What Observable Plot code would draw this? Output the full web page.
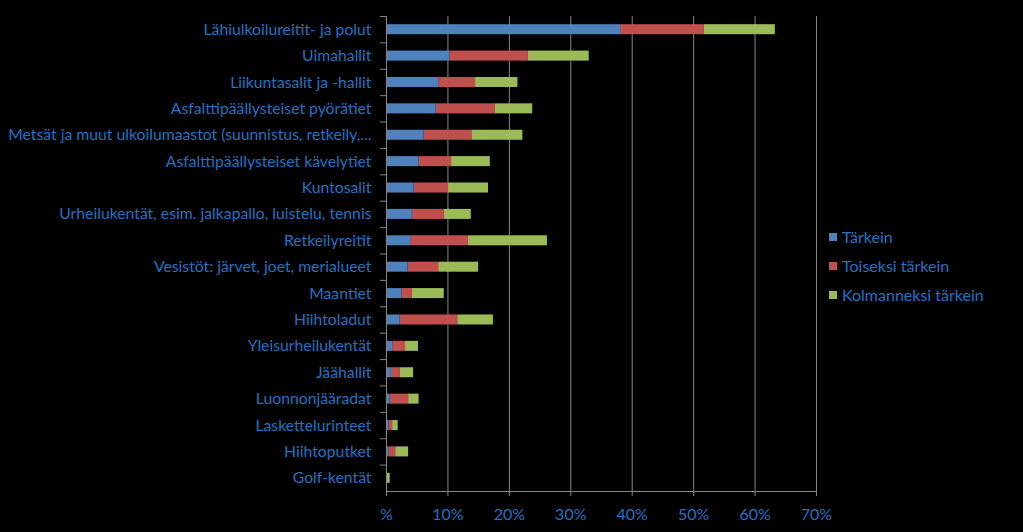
<!DOCTYPE html>
<html>
<head>
<meta charset="utf-8">
<script src="https://cdn.jsdelivr.net/npm/d3@7"></script>
<script src="https://cdn.jsdelivr.net/npm/@observablehq/plot@0.6"></script>
<style>
  html, body { margin: 0; padding: 0; background: #000; }
  #wrap { position: relative; width: 1023px; height: 532px; background: #000; }
  #legend { position: absolute; left: 829px; top: 222px; font-family: Lato, "Open Sans", sans-serif; font-size: 16px; color: #2272c3; }
  #legend .row { display: flex; align-items: center; height: 29px; }
  #legend .sw { width: 8px; height: 8px; margin-right: 5px; }
</style>
</head>
<body>
<div id="wrap"><div id="legend"></div></div>
<script>
const categories = [
  "Lähiulkoilureitit- ja polut",
  "Uimahallit",
  "Liikuntasalit ja -hallit",
  "Asfalttipäällysteiset pyörätiet",
  "Metsät ja muut ulkoilumaastot (suunnistus, retkeily,...",
  "Asfalttipäällysteiset kävelytiet",
  "Kuntosalit",
  "Urheilukentät, esim. jalkapallo, luistelu, tennis",
  "Retkeilyreitit",
  "Vesistöt: järvet, joet, merialueet",
  "Maantiet",
  "Hiihtoladut",
  "Yleisurheilukentät",
  "Jäähallit",
  "Luonnonjääradat",
  "Laskettelurinteet",
  "Hiihtoputket",
  "Golf-kentät"
];
const tarkein      = [38.1, 10.3, 8.5, 8.1, 6.1, 5.3, 4.5, 4.2, 3.9, 3.5, 2.5, 2.2, 1.0, 0.8, 0.6, 0.4, 0.4, 0.05];
const toiseksi     = [13.6, 12.8, 6.0, 9.6, 7.8, 5.3, 5.6, 5.2, 9.4, 5.0, 1.7, 9.4, 2.1, 1.4, 3.0, 0.6, 1.1, 0.1];
const kolmanneksi  = [11.6,  9.9, 6.9, 6.1, 8.3, 6.3, 6.5, 4.4, 12.9, 6.5, 5.2, 5.8, 2.1, 2.2, 1.7, 0.9, 2.1, 0.45];
const seriesNames  = ["Tärkein", "Toiseksi tärkein", "Kolmanneksi tärkein"];
const seriesColors = ["#4F81BD", "#C0504D", "#9BBB59"];
const xTicks       = [0, 10, 20, 30, 40, 50, 60, 70];

const seriesValues = [tarkein, toiseksi, kolmanneksi];
const data = [];
seriesNames.forEach((s, si) => {
  categories.forEach((c, ci) => data.push({cat: c, series: s, value: seriesValues[si][ci]}));
});

const textColor = "#2272c3";
const gridColor = "#868686";

const chart = Plot.plot({
  width: 1023,
  height: 532,
  marginLeft: 386,
  marginRight: 207,
  marginTop: 16,
  marginBottom: 41,
  style: {background: "#000", color: textColor, fontFamily: "Lato, 'Open Sans', sans-serif", fontSize: "16px"},
  x: {domain: [0, 70], axis: null},
  y: {domain: categories, paddingInner: 0.62, paddingOuter: 0.31, round: false, axis: null},
  color: {domain: seriesNames, range: seriesColors},
  marks: [
    Plot.gridX(xTicks.slice(1), {stroke: gridColor, strokeOpacity: 1}),
    Plot.barX(data, Plot.stackX({y: "cat", x: "value", fill: "series", order: seriesNames})),
    Plot.ruleX([0], {stroke: gridColor}),
    Plot.frame({anchor: "bottom", stroke: gridColor}),
    Plot.axisX(xTicks, {tickSize: 5, stroke: gridColor, fill: textColor, tickPadding: 12,
      tickFormat: d => d === 0 ? "%" : d + "%", label: null, fontSize: "16px"}),
    Plot.axisY({tickSize: 0, tickPadding: 15, fill: textColor, label: null, fontSize: "15.75px"}),
    Plot.axisY({tickSize: 6, stroke: gridColor, tickFormat: () => "", label: null, dy: -13.2})
  ]
});
document.getElementById("wrap").prepend(chart);

const legend = document.getElementById("legend");
seriesNames.forEach((s, i) => {
  const row = document.createElement("div");
  row.className = "row";
  row.innerHTML = `<span class="sw" style="background:${seriesColors[i]}"></span><span>${s}</span>`;
  legend.appendChild(row);
});
</script>
</body>
</html>
